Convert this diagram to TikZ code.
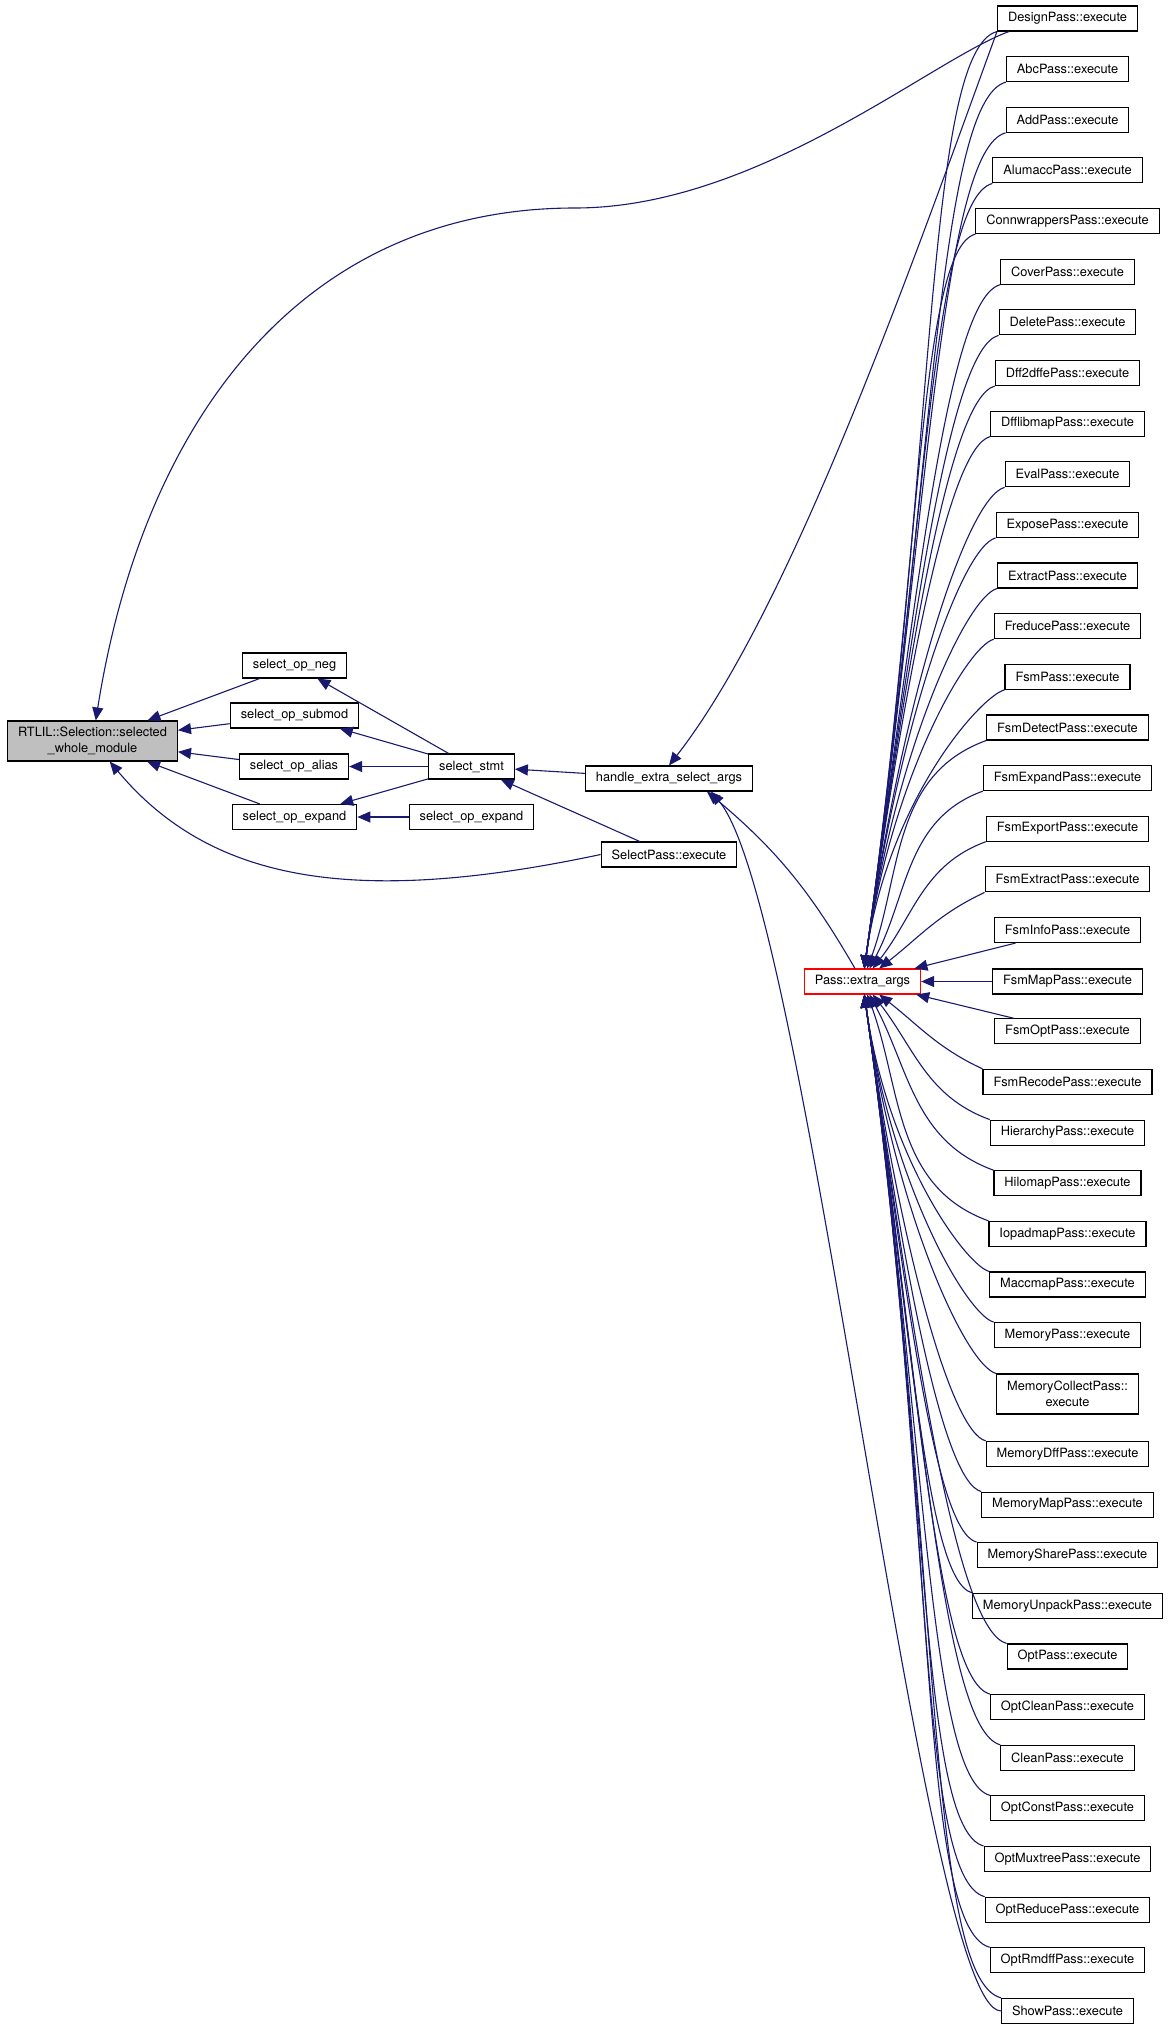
\documentclass[tikz,border=0pt]{standalone}
\usepackage{fontspec}
\setmainfont{TeX Gyre Heros}
\usepackage{xcolor}
\definecolor{edgeblue}{RGB}{25,25,112}
\definecolor{nodegrey}{RGB}{191,191,191}
\usetikzlibrary{arrows.meta}

\begin{document}
\begin{tikzpicture}[
  x=0.5pt, y=0.5pt,
  fn/.style   ={rectangle, draw=black, line width=0.55pt, fill=white,
                inner xsep=5.25pt, inner ysep=0pt, minimum height=12.5pt,
                align=center, font=\fontsize{6.4}{7.75}\selectfont},
  fntwo/.style={fn, minimum height=20pt},
  call/.style ={draw=edgeblue, line width=0.55pt,
                -{Triangle[length=6.5pt, width=5.5pt]}},
  fanup/.style  ={out=195, in=82, out looseness=0.2, in looseness=1.4},
  fandown/.style={out=165, in=-82, out looseness=0.2, in looseness=1.4},
]
\useasboundingbox (0,0) rectangle (1171,-2029);

%% --- fonction appelee et appelants directs ---
\node[fntwo, fill=nodegrey] (rtlil) at (92.5,-741)
  {RTLIL::Selection::selected\\\_whole\_module};
\node[fn] (opneg)    at (294.5,-665.5) {select\_op\_neg};
\node[fn] (opsubmod) at (294.5,-715.5) {select\_op\_submod};
\node[fn] (opalias)  at (294,-766.5)   {select\_op\_alias};
\node[fn] (opexpand) at (294.5,-817)   {select\_op\_expand};
\node[fn] (stmt)     at (471.5,-766.5) {select\_stmt};
\node[fn] (opexpandb) at (471.5,-817)  {select\_op\_expand};
\node[fn] (handle)   at (669,-778.5)   {handle\_extra\_select\_args};
\node[fn] (selectpass) at (669,-854.5) {SelectPass::execute};
\node[fn, draw=red] (extra) at (862.5,-981.5) {Pass::extra\_args};

%% --- colonne des passes ---
\node[fn] (design)     at (1067.5,-18.5)  {DesignPass::execute};
\node[fn] (abc)        at (1067.5,-69.1)  {AbcPass::execute};
\node[fn] (add)        at (1067.5,-119.8) {AddPass::execute};
\node[fn] (alumacc)    at (1067.5,-170.4) {AlumaccPass::execute};
\node[fn] (connwrap)   at (1067.5,-221.1) {ConnwrappersPass::execute};
\node[fn] (cover)      at (1067.5,-271.7) {CoverPass::execute};
\node[fn] (delete)     at (1067.5,-322.3) {DeletePass::execute};
\node[fn] (dffdffe)    at (1067.5,-373)   {Dff2dffePass::execute};
\node[fn] (dfflibmap)  at (1067.5,-423.6) {DfflibmapPass::execute};
\node[fn] (eval)       at (1067.5,-474.3) {EvalPass::execute};
\node[fn] (expose)     at (1067.5,-524.9) {ExposePass::execute};
\node[fn] (extract)    at (1067.5,-575.5) {ExtractPass::execute};
\node[fn] (freduce)    at (1067.5,-626.2) {FreducePass::execute};
\node[fn] (fsm)        at (1067.5,-676.8) {FsmPass::execute};
\node[fn] (fsmdetect)  at (1067.5,-727.5) {FsmDetectPass::execute};
\node[fn] (fsmexpand)  at (1067.5,-778.1) {FsmExpandPass::execute};
\node[fn] (fsmexport)  at (1067.5,-828.7) {FsmExportPass::execute};
\node[fn] (fsmextract) at (1067.5,-879.4) {FsmExtractPass::execute};
\node[fn] (fsminfo)    at (1067.5,-930)   {FsmInfoPass::execute};
\node[fn] (fsmmap)     at (1067.5,-981.5) {FsmMapPass::execute};
\node[fn] (fsmopt)     at (1067.5,-1031.3) {FsmOptPass::execute};
\node[fn] (fsmrecode)  at (1067.5,-1081.9) {FsmRecodePass::execute};
\node[fn] (hierarchy)  at (1067.5,-1132.6) {HierarchyPass::execute};
\node[fn] (hilomap)    at (1067.5,-1183.2) {HilomapPass::execute};
\node[fn] (iopadmap)   at (1067.5,-1233.9) {IopadmapPass::execute};
\node[fn] (maccmap)    at (1067.5,-1284.5) {MaccmapPass::execute};
\node[fn] (memory)     at (1067.5,-1335.1) {MemoryPass::execute};
\node[fntwo] (memcollect) at (1067.5,-1394) {MemoryCollectPass::\\execute};
\node[fn] (memdff)     at (1067.5,-1453.9) {MemoryDffPass::execute};
\node[fn] (memmap)     at (1067.5,-1504.6) {MemoryMapPass::execute};
\node[fn] (memshare)   at (1067.5,-1555.2) {MemorySharePass::execute};
\node[fn] (memunpack)  at (1067.5,-1605.8) {MemoryUnpackPass::execute};
\node[fn] (opt)        at (1067.5,-1656.5) {OptPass::execute};
\node[fn] (optclean)   at (1067.5,-1707.1) {OptCleanPass::execute};
\node[fn] (clean)      at (1067.5,-1757.8) {CleanPass::execute};
\node[fn] (optconst)   at (1067.5,-1808.4) {OptConstPass::execute};
\node[fn] (optmuxtree) at (1067.5,-1859)   {OptMuxtreePass::execute};
\node[fn] (optreduce)  at (1067.5,-1909.7) {OptReducePass::execute};
\node[fn] (optrmdff)   at (1067.5,-1960.3) {OptRmdffPass::execute};
\node[fn] (show)       at (1067.5,-2010.9) {ShowPass::execute};

%% --- appels vers selected_whole_module ---
\coordinate (flat) at (575,-208);
\draw[call] ([xshift=6pt]design.south west)
  to[out=200, in=0, out looseness=0.45] (flat)
  to[out=180, in=81, in looseness=1.1] (rtlil);
\draw[call] (opneg) -- (rtlil);
\draw[call] (opsubmod) -- (rtlil);
\draw[call] (opalias) -- (rtlil);
\draw[call] (opexpand) -- (rtlil);
\draw[call] (selectpass.west)
  to[out=192, in=-50, out looseness=1.3, in looseness=0.8] (rtlil);

%% --- select_stmt et voisins ---
\draw[call] (stmt) -- (opneg);
\draw[call] (stmt) -- (opsubmod);
\draw[call] (stmt) -- (opalias);
\draw[call] (stmt) -- (opexpand);
\draw[call] (opexpandb) -- (opexpand);
\draw[call] (handle) -- (stmt);
\draw[call] (selectpass) -- (stmt);

%% --- handle_extra_select_args ---
\draw[call] (design.south west)
  to[out=250, in=52, out looseness=0.79, in looseness=0.63] (handle.north);
\draw[call] (extra) to[out=120, in=-40] ([xshift=19pt]handle.south);
\draw[call] (show.west)
  to[out=180, in=-50, out looseness=0.16, in looseness=0.31]
  ([xshift=21pt]handle.south);

%% --- passes vers Pass::extra_args (haut) ---
\draw[call] (design.south west) to[fanup] (extra);
\draw[call] (abc.south west) to[fanup] (extra);
\draw[call] (add.south west) to[fanup] (extra);
\draw[call] (alumacc.south west) to[fanup] (extra);
\draw[call] (connwrap.south west) to[fanup] (extra);
\draw[call] (cover.south west) to[fanup] (extra);
\draw[call] (delete.south west) to[fanup] (extra);
\draw[call] (dffdffe.south west) to[fanup] (extra);
\draw[call] (dfflibmap.south west) to[fanup] (extra);
\draw[call] (eval.south west) to[fanup] (extra);
\draw[call] (expose.south west) to[fanup] (extra);
\draw[call] (extract.south west) to[fanup] (extra);
\draw[call] (freduce.south west) to[fanup] (extra);
\draw[call] (fsm.south west) to[fanup] (extra);
\draw[call] (fsmdetect.south west) to[out=200, in=70] (extra);
\draw[call] (fsmexpand.south west) to[out=200, in=62] (extra);
\draw[call] (fsmexport.south west) to[out=200, in=52] (extra);
\draw[call] (fsmextract.south west) to[out=205, in=38] (extra);
\draw[call] (fsminfo) -- (extra);
\draw[call] (fsmmap) -- (extra);

%% --- passes vers Pass::extra_args (bas) ---
\draw[call] (fsmopt) -- (extra);
\draw[call] (fsmrecode.north west) to[out=155, in=-38] (extra);
\draw[call] (hierarchy.north west) to[out=160, in=-52] (extra);
\draw[call] (hilomap.north west) to[out=160, in=-62] (extra);
\draw[call] (iopadmap.north west) to[out=160, in=-70] (extra);
\draw[call] (maccmap.north west) to[fandown] (extra);
\draw[call] (memory.north west) to[fandown] (extra);
\draw[call] (memcollect.north west) to[fandown] (extra);
\draw[call] (memdff.north west) to[fandown] (extra);
\draw[call] (memmap.north west) to[fandown] (extra);
\draw[call] (memshare.north west) to[fandown] (extra);
\draw[call] (memunpack.north west) to[fandown] (extra);
\draw[call] (opt.north west) to[fandown] (extra);
\draw[call] (optclean.north west) to[fandown] (extra);
\draw[call] (clean.north west) to[fandown] (extra);
\draw[call] (optconst.north west) to[fandown] (extra);
\draw[call] (optmuxtree.north west) to[fandown] (extra);
\draw[call] (optreduce.north west) to[fandown] (extra);
\draw[call] (optrmdff.north west) to[fandown] (extra);
\draw[call] (show.north west) to[fandown] (extra);
\end{tikzpicture}
\end{document}
